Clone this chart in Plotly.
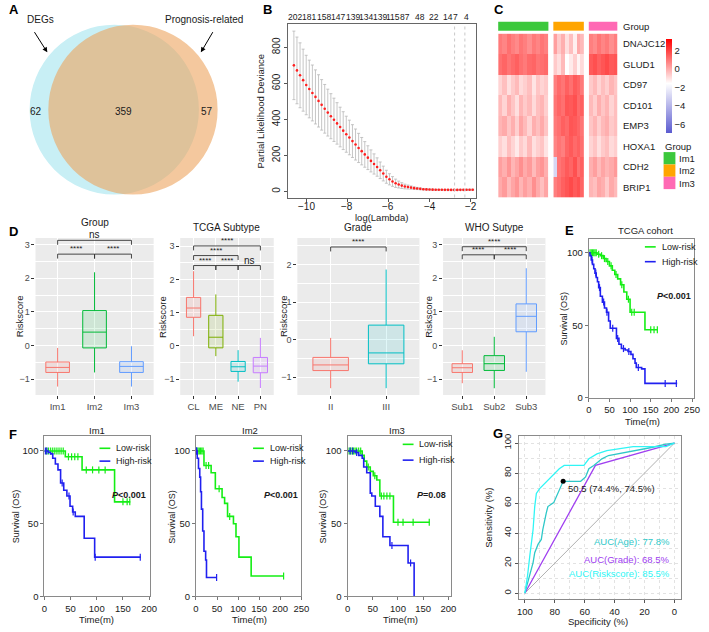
import plotly.graph_objects as go

W, H = 709, 632
FONT = "Liberation Sans, Arial, Helvetica, sans-serif"
TXT = "#1a1a1a"


def px(x):
    return x / W


def py(y):
    return 1 - y / H


# ---------------- A: Venn ----------------
venn_names = ["DEGs", "Prognosis-related"]
venn_counts = [62, 359, 57]  # DEGs only, both, prognosis-related only

# ---------------- B: LASSO cross-validation ----------------
log_lambda = [-10.60, -10.45, -10.30, -10.15, -10.00, -9.85, -9.70, -9.55, -9.40, -9.25,
              -9.10, -8.95, -8.80, -8.65, -8.50, -8.35, -8.20, -8.05, -7.90, -7.75,
              -7.60, -7.45, -7.30, -7.15, -7.00, -6.85, -6.70, -6.55, -6.40, -6.25,
              -6.10, -5.95, -5.80, -5.65, -5.50, -5.35, -5.20, -5.05, -4.90, -4.75,
              -4.60, -4.45, -4.30, -4.15, -4.00, -3.85, -3.70, -3.55, -3.40, -3.25,
              -3.10, -2.95, -2.80, -2.65, -2.50, -2.35, -2.20, -2.05, -1.90]
deviance_mean = [700, 672, 645, 618, 591, 569, 547, 525, 503, 481,
                 459, 438, 418, 398, 378, 358, 338, 318, 300, 280,
                 261, 242, 224, 206, 188, 170, 153, 136, 118, 100,
                 82, 68, 56, 46, 39, 33, 28, 25, 22, 19,
                 17, 15, 13, 12, 11, 10.5, 10, 9.8, 9.6, 9.5,
                 9.4, 9.3, 9.3, 9.3, 9.4, 9.5, 9.6, 9.8, 10]
deviance_sd = [190, 185, 180, 172, 165, 160, 155, 150, 145, 140,
               135, 130, 125, 120, 115, 110, 105, 100, 96, 91,
               86, 81, 76, 71, 66, 61, 56, 51, 46, 41,
               36, 31, 27, 23, 19, 16, 13, 11, 9, 7,
               6, 5, 4, 3.5, 3, 2.8, 2.6, 2.5, 2.4, 2.3,
               2.3, 2.3, 2.3, 2.3, 2.4, 2.5, 2.6, 2.8, 3]
lambda_ticks = [-10, -8, -6, -4, -2]
nz_pos = [-10.57, -9.86, -9.14, -8.44, -7.74, -7.07, -6.41, -5.80, -5.20, -4.48, -3.77, -3.12, -2.73, -2.20]
nz_labels = ["202", "181", "158", "147", "139", "134", "139", "115", "87", "48", "22", "14", "7", "4"]
lambda_sel = [-2.78, -2.28]

# ---------------- C: heatmap ----------------
genes = ["DNAJC12", "GLUD1", "CD97", "CD101", "EMP3", "HOXA1", "CDH2", "BRIP1"]
heat_groups = ["Im1", "Im2", "Im3"]
group_colors = ["#3cc83c", "#ffa500", "#ff69b4"]
heat_im1 = [
    [1.0, 0.8, 1.2, 0.9, 0.7, 1.1, 0.9, 0.6, 1.0, 0.8, 1.1, 0.9],
    [1.2, 1.4, 1.1, 1.3, 1.5, 1.2, 1.0, 1.3, 1.4, 1.1, 1.2, 1.3],
    [-0.7, -0.3, -0.9, -0.5, -0.2, -0.8, -0.6, -0.3, -1.0, -0.4, -0.7, -0.5],
    [-0.2, -0.7, 0.0, -0.4, -0.9, -0.1, -0.5, -0.2, -0.8, -0.3, -0.1, -0.6],
    [-0.1, 0.1, -0.4, 0.0, -0.6, 0.2, -0.2, -0.7, 0.0, -0.3, 0.1, -0.4],
    [-0.6, -0.9, -0.3, -0.7, -1.1, -0.5, -0.8, -0.2, -0.9, -0.6, -0.4, -1.0],
    [0.3, 0.0, 0.5, -0.1, 0.2, 0.6, 0.1, 0.4, -0.2, 0.3, 0.5, 0.0],
    [0.1, 0.4, -0.2, 0.2, 0.5, -0.1, 0.3, 0.0, 0.6, 0.1, -0.3, 0.2],
]
heat_im2 = [
    [0.3, -0.5, 0.0, -0.9, -0.3, -1.2, 0.1, -0.2],
    [-0.5, -0.9, -0.2, -1.5, -1.1, -0.6, -1.3, -0.8],
    [0.9, 1.3, 1.1, 1.5, 1.2, 1.6, 1.4, 1.0],
    [1.1, 1.4, 1.2, 1.7, 1.6, 1.8, 1.3, 1.5],
    [1.0, 1.2, 1.5, 1.3, 1.7, 1.6, 1.4, 1.1],
    [0.8, 1.1, 0.9, 1.4, 1.6, 1.3, 1.5, 1.2],
    [-2.8, 1.1, 1.3, 1.6, 1.4, 1.8, 1.2, 1.5],
    [0.9, 1.2, 1.5, 1.7, 1.9, 1.6, 1.8, 1.4],
]
heat_im3 = [
    [0.9, 0.7, 1.1, 0.8, 1.0, 0.6, 0.9],
    [1.6, 1.8, 1.5, 1.7, 1.9, 1.6, 1.7],
    [-0.5, -0.2, -0.7, -0.3, -0.6, -0.1, -0.4],
    [-0.2, -0.6, 0.0, -0.4, -0.1, -0.7, -0.3],
    [-0.4, -0.1, -0.6, -0.2, 0.0, -0.5, -0.3],
    [-0.7, -0.4, -0.9, -0.5, -0.3, -0.8, -0.6],
    [0.0, 0.3, -0.2, 0.2, -0.1, 0.1, 0.4],
    [-0.1, -0.3, 0.2, 0.0, -0.5, 0.1, -0.2],
]
heat_ticks = [2, 0, -2, -4, -6]

# ---------------- D: boxplots ----------------
gg_red, gg_green, gg_blue = "#F8766D", "#00BA38", "#619CFF"
group_cats = ["Im1", "Im2", "Im3"]
group_q1 = [-0.80, -0.07, -0.80]
group_med = [-0.65, 0.40, -0.62]
group_q3 = [-0.49, 1.04, -0.48]
group_lo = [-1.22, -0.80, -1.22]
group_hi = [-0.07, 2.18, -0.02]
group_brackets = [(1, 3, 3.13, "ns"), (1, 2, 2.72, "****"), (2, 3, 2.72, "****")]

tcga_cats = ["CL", "ME", "NE", "PN"]
tcga_q1 = [0.86, -0.06, -0.77, -0.81]
tcga_med = [1.14, 0.26, -0.63, -0.61]
tcga_q3 = [1.46, 0.92, -0.47, -0.35]
tcga_lo = [0.29, -0.31, -1.08, -1.27]
tcga_hi = [2.25, 1.55, -0.13, 0.24]
tcga_brackets = [(1, 4, 3.01, "****"), (1, 3, 2.72, "****"), (1, 2, 2.42, "****"),
                 (2, 3, 2.42, "****"), (3, 4, 2.42, "ns")]

grade_cats = ["II", "III"]
grade_q1 = [-0.82, -0.64]
grade_med = [-0.67, -0.35]
grade_q3 = [-0.47, 0.39]
grade_lo = [-1.29, -1.29]
grade_hi = [0.05, 1.87]
grade_brackets = [(1, 2, 2.47, "****")]

who_cats = ["Sub1", "Sub2", "Sub3"]
who_q1 = [-0.80, -0.74, 0.41]
who_med = [-0.66, -0.54, 0.87]
who_q3 = [-0.54, -0.30, 1.24]
who_lo = [-1.12, -1.27, -0.78]
who_hi = [-0.14, 0.26, 2.30]
who_brackets = [(1, 3, 2.94, "****"), (1, 2, 2.70, "****"), (2, 3, 2.70, "****")]

# ---------------- E/F: Kaplan-Meier ----------------
tcga_low_t = [0, 20, 28, 35, 42, 50, 57, 63, 70, 77, 85, 92, 100, 136, 167]
tcga_low_s = [100, 99, 98, 96, 94, 91, 88, 85, 82, 78, 73, 68, 59, 47, 47]
tcga_low_cens = [3, 6, 9, 12, 15, 18, 24, 31, 38, 46, 54, 66, 80, 96, 104, 110, 150, 158, 166]
tcga_high_t = [0, 3, 6, 9, 12, 15, 18, 21, 24, 28, 33, 38, 43, 48, 52, 62, 67, 73, 79, 88, 95, 102,
               107, 112, 115, 128, 136, 214]
tcga_high_s = [100, 98, 95, 92, 89, 86, 83, 80, 76, 70, 66, 62, 59, 53, 48, 48, 41, 37, 34, 33, 32, 30,
               27, 24, 21, 20, 10, 10]
tcga_high_cens = [8, 17, 26, 36, 44, 58, 70, 84, 97, 120, 185, 212]

im1_low_t = [0, 40, 72, 134, 164]
im1_low_s = [100, 96, 87, 65, 65]
im1_low_cens = [4, 8, 12, 16, 20, 24, 28, 32, 36, 46, 52, 58, 64, 80, 92, 104, 116, 150, 158, 163]
im1_high_t = [0, 8, 12, 16, 21, 26, 31, 37, 43, 49, 54, 59, 76, 96, 184]
im1_high_s = [100, 99, 98, 95, 91, 87, 78, 73, 69, 62, 58, 55, 40, 27, 27]
im1_high_cens = [2, 5, 34, 47, 55, 97, 183]

im2_low_t = [0, 19, 36, 46, 62, 68, 75, 89, 95, 102, 131, 209]
im2_low_s = [100, 90, 85, 74, 68, 64, 55, 50, 41, 27, 14, 14]
im2_low_cens = [2, 5, 8, 11, 14, 17, 24, 30, 55, 80, 208]
im2_high_t = [0, 3, 6, 9, 11, 13, 16, 19, 23, 25, 50]
im2_high_s = [100, 95, 88, 82, 72, 60, 45, 31, 25, 13, 13]
im2_high_cens = [1, 2, 49]

im3_low_t = [0, 29, 33, 38, 45, 51, 58, 64, 91, 163]
im3_low_s = [100, 97, 93, 89, 86, 83, 80, 69, 51, 51]
im3_low_cens = [3, 6, 9, 12, 15, 18, 22, 26, 41, 54, 67, 72, 78, 84, 100, 110, 130, 162]
im3_high_t = [0, 15, 22, 29, 32, 38, 45, 48, 55, 64, 70, 84, 120, 132]
im3_high_s = [100, 99, 97, 95, 89, 85, 71, 69, 62, 55, 41, 35, 23, 0]
im3_high_cens = [5, 10, 18, 88, 125]

# ---------------- G: ROC ----------------
roc_age_spec = [100, 98.9, 96.7, 94.5, 93.4, 91.2, 89.0, 88.0, 85.7, 84.6, 80.7, 78.0, 75.9, 74.4,
                62.7, 59.4, 57.2, 53.9, 48.5, 44.1, 14.5, 5.7, 0]
roc_age_sens = [0, 4, 11.6, 20.4, 27, 32.5, 35.8, 42.4, 53.3, 57.7, 60.3, 66.4, 72, 74.5,
                74.5, 77.4, 82.9, 85.1, 89.5, 91.7, 97.2, 99.3, 100]
roc_risk_spec = [100, 98.2, 96.7, 94.5, 93.4, 92.3, 90.1, 86.8, 83.6, 80.3, 77.0, 73.7, 60.5, 57.2,
                 51.8, 45.2, 27.6, 5.7, 0]
roc_risk_sens = [0, 11.6, 24.8, 42.4, 57.7, 66.4, 69.7, 73, 76.3, 79.6, 82.9, 85.1, 85.1, 89.5,
                 92.8, 95, 97.6, 97.6, 100]
roc_grade_spec = [100, 52.8, 0]
roc_grade_sens = [0, 85.1, 100]
roc_ref = [100, 0]
best_spec, best_sens, best_thr = 74.4, 74.5, 50.5
auc_labels = ["AUC(Age): 77.8%", "AUC(Grade): 68.5%", "AUC(Riskscore): 85.5%"]
auc_y = [34.3, 22.2, 13.0]
roc_colors = ["#2ec8c8", "#a040f0", "#30f5f5"]

# =====================================================================
fig = go.Figure()
layout = dict(width=W, height=H, margin=dict(l=0, r=0, t=0, b=0),
              paper_bgcolor="white", plot_bgcolor="rgba(0,0,0,0)",
              font=dict(family=FONT, size=9, color=TXT), showlegend=False)
annotations = []
shapes = []


def axkey(n, c):
    return f"{c}axis" if n == 1 else f"{c}axis{n}"


def ref(n, c):
    return c if n == 1 else f"{c}{n}"


def ann(text, x, y, size=9, color=TXT, xanchor="center", yanchor="middle", angle=0,
        xref="paper", yref="paper", **kw):
    if xref == "paper":
        x = px(x)
    if yref == "paper":
        y = py(y)
    d = dict(text=text, x=x, y=y, xref=xref, yref=yref, showarrow=False,
             font=dict(size=size, color=color, family=FONT),
             xanchor=xanchor, yanchor=yanchor, textangle=angle)
    d.update(kw)
    annotations.append(d)


# panel letters
for letter, lx, ly in [("A", 4, 7), ("B", 262, 7), ("C", 497, 7), ("D", 4, 231),
                       ("E", 569, 230), ("F", 4, 437), ("G", 496, 436)]:
    ann(f"<b>{letter}</b>", lx, ly, size=13, color="black", xanchor="left")

# ---------------- A ----------------
layout["xaxis"] = dict(domain=[0, px(230)], range=[0, 230], visible=False, anchor="y")
layout["yaxis"] = dict(domain=[py(220), 1], range=[220, 0], visible=False, anchor="x")
shapes.append(dict(type="circle", xref="x", yref="y", x0=27, y0=22, x1=199, y1=194,
                   fillcolor="#c8eff5", line_width=0, layer="below"))
shapes.append(dict(type="circle", xref="x", yref="y", x0=46, y0=22, x1=218, y1=194,
                   fillcolor="rgba(237,163,93,0.6)", line_width=0, layer="below"))
for txt, vx in zip(venn_counts, [34, 122, 207]):
    ann(str(txt), vx, 110, size=10, xref="x", yref="y")
ann(venn_names[0], 38, 17, size=10)
ann(venn_names[1], 204, 17, size=10)
for hx, hy, tx, ty in [(45, 50, 31, 28), (201, 50, 214, 28)]:
    annotations.append(dict(x=hx, y=hy, xref="x", yref="y", ax=tx, ay=ty, axref="x", ayref="y",
                            showarrow=True, arrowhead=2, arrowsize=1, arrowwidth=1,
                            arrowcolor="black", text=""))

# ---------------- B ----------------
fig.add_trace(go.Scatter(x=log_lambda, y=deviance_mean, mode="markers",
                         marker=dict(color="#ff2020", size=2.6),
                         error_y=dict(type="data", array=deviance_sd, color="#b8b8b8",
                                      thickness=0.8, width=1.5),
                         xaxis="x2", yaxis="y2", hoverinfo="skip"))
layout["xaxis2"] = dict(domain=[px(289), px(480)], range=[-10.91, -1.76], anchor="y2",
                        tickvals=lambda_ticks, ticks="outside", ticklen=3, tickcolor="#555",
                        showticklabels=False,
                        showline=True, linecolor="#666", mirror=True, showgrid=False, zeroline=False)
layout["yaxis2"] = dict(domain=[py(197), py(21)], range=[-33, 931], anchor="x2",
                        tickvals=[0, 200, 400, 600, 800], tickangle=-90, ticks="outside", ticklen=3,
                        tickcolor="#555", showline=True, linecolor="#666", mirror=True,
                        showgrid=False, zeroline=False, tickfont=dict(size=10))
for tv in lambda_ticks:
    ann(f"\u2212{abs(tv)}", tv, 206, size=10, xref="x2")
for xv in lambda_sel:
    shapes.append(dict(type="line", xref="x2", yref="y2 domain", x0=xv, x1=xv, y0=0, y1=1,
                       line=dict(color="#c8c8c8", width=1, dash="dot")))
for pos, lab in zip(nz_pos, nz_labels):
    ann(lab, pos, 14, size=8.5, xref="x2")
ann("log(Lambda)", 384, 217, size=9.5)
ann("Partial Likelihood Deviance", 262, 109, size=9.5, angle=-90)

# ---------------- C ----------------
heat_blocks = [heat_im1, heat_im2, heat_im3]
heat_dom = [(503, 554), (559, 590), (595, 624)]
for k, (blk, (a, b)) in enumerate(zip(heat_blocks, heat_dom)):
    n = 4 + k
    fig.add_trace(go.Heatmap(z=blk, x=list(range(len(blk[0]))), y=genes, coloraxis="coloraxis",
                             xaxis=ref(n, "x"), yaxis="y4", hoverinfo="skip"))
    layout[axkey(n, "x")] = dict(domain=[px(a), px(b)], range=[-0.5, len(blk[0]) - 0.5], anchor="y4",
                                 visible=False, showgrid=False, zeroline=False)
    shapes.append(dict(type="rect", xref=f"{ref(n, 'x')} domain", yref="paper", x0=0, x1=1,
                       y0=py(28), y1=py(19), fillcolor=group_colors[k], line_width=0))
layout["yaxis4"] = dict(domain=[py(197), py(31)], anchor="x4", autorange="reversed", visible=False,
                        showgrid=False, zeroline=False, type="category")
layout["coloraxis"] = dict(cmin=-6.85, cmax=3.3,
                           colorscale=[[0, "#5b5bd0"], [0.527, "#ffffff"], [1, "#ff0000"]],
                           colorbar=dict(x=px(673), xanchor="left", y=py(36), yanchor="top",
                                         len=95 / H, lenmode="fraction", thickness=6,
                                         thicknessmode="pixels", outlinewidth=0,
                                         tickvals=heat_ticks, ticks="", tickfont=dict(size=9.5),
                                         xpad=0, ypad=0))
for g in genes:
    ann(g, 628, g, size=9.5, xanchor="left", xref="paper", yref="y4")
ann("Group", 628, 24, size=9.5, xanchor="left")
ann("Group", 670, 145, size=9.5, xanchor="left")
for k, (gname, col) in enumerate(zip(heat_groups, group_colors)):
    y0 = 151 + k * 12.5
    shapes.append(dict(type="rect", xref="paper", yref="paper", x0=px(671), x1=px(683),
                       y0=py(y0 + 12.5), y1=py(y0), fillcolor=col, line_width=0))
    ann(gname, 685, y0 + 6.5, size=9.5, xanchor="left")


# ---------------- D ----------------
def hex_rgba(h, a):
    h = h.lstrip("#")
    return f"rgba({int(h[0:2], 16)},{int(h[2:4], 16)},{int(h[4:6], 16)},{a})"


def box_panel(n, xpx, ypx, yrange, yticks, cats, q1, med, q3, lo, hi, colors, brackets,
              title, ylab_x, title_y=227):
    xr, yr = ref(n, "x"), ref(n, "y")
    ppu = (ypx[1] - ypx[0]) / (yrange[1] - yrange[0])
    for i, c in enumerate(cats):
        fig.add_trace(go.Box(x=[i + 1], q1=[q1[i]], median=[med[i]], q3=[q3[i]],
                             lowerfence=[lo[i]], upperfence=[hi[i]], boxpoints=False,
                             line=dict(color=colors[i], width=1), fillcolor=hex_rgba(colors[i], 0.12),
                             width=0.64, whiskerwidth=0, xaxis=xr, yaxis=yr, hoverinfo="skip"))
    tip = 4.5 / ppu
    for (i, j, yv, lab) in brackets:
        fig.add_trace(go.Scatter(x=[i, i, j, j], y=[yv - tip, yv, yv, yv - tip], mode="lines",
                                 line=dict(color="#333333", width=0.9), xaxis=xr, yaxis=yr,
                                 hoverinfo="skip", cliponaxis=False))
        if lab == "ns":
            ann(lab, (i + j) / 2, yv, size=10, xref=xr, yref=yr, yanchor="bottom", yshift=-2)
        else:
            ann(lab, (i + j) / 2, yv, size=8, xref=xr, yref=yr, yanchor="bottom", yshift=-1)
    layout[axkey(n, "x")] = dict(domain=[px(xpx[0]), px(xpx[1])], range=[0.4, len(cats) + 0.6],
                                 anchor=yr, tickvals=list(range(1, len(cats) + 1)), ticktext=cats,
                                 ticks="outside", ticklen=3, tickcolor="#333", showgrid=True,
                                 gridcolor="white", gridwidth=1, zeroline=False, showline=False,
                                 tickfont=dict(size=9.5, color="#4d4d4d"))
    layout[axkey(n, "y")] = dict(domain=[py(ypx[1]), py(ypx[0])], range=yrange, anchor=xr,
                                 tickvals=yticks, ticks="outside", ticklen=3, tickcolor="#333",
                                 showgrid=True, gridcolor="white", gridwidth=1, zeroline=False,
                                 showline=False, tickfont=dict(size=9, color="#4d4d4d"),
                                 minor=dict(dtick=0.5, tick0=0, showgrid=True, gridcolor="white",
                                            gridwidth=0.5, ticks=""))
    shapes.append(dict(type="rect", xref=f"{xr} domain", yref=f"{yr} domain", x0=0, x1=1, y0=0, y1=1,
                       fillcolor="#ebebeb", line_width=0, layer="below"))
    ann(title, (xpx[0] + xpx[1]) / 2, title_y, size=10)
    ann("Riskscore", ylab_x, (ypx[0] + ypx[1]) / 2, size=9.5, angle=-90)


box_panel(7, (33, 153), (238, 397), [-1.47, 3.2], [-1, 0, 1, 2, 3], group_cats, group_q1, group_med,
          group_q3, group_lo, group_hi, [gg_red, gg_green, gg_blue], group_brackets, "Group", 17,
          title_y=222)
box_panel(8, (180, 275), (238, 397), [-1.48, 3.25], [-1, 0, 1, 2, 3], tcga_cats, tcga_q1, tcga_med,
          tcga_q3, tcga_lo, tcga_hi, [gg_red, "#7CAE00", "#00BFC4", "#C77CFF"], tcga_brackets,
          "TCGA Subtype", 162)
box_panel(9, (299, 423), (238, 397), [-1.47, 2.71], [-1, 0, 1, 2], grade_cats, grade_q1, grade_med,
          grade_q3, grade_lo, grade_hi, [gg_red, "#00BFC4"], grade_brackets, "Grade", 285)
box_panel(10, (447, 551), (238, 397), [-1.47, 3.2], [-1, 0, 1, 2, 3], who_cats, who_q1, who_med,
          who_q3, who_lo, who_hi, [gg_red, gg_green, gg_blue], who_brackets, "WHO Sutype", 432)

# ---------------- E / F ----------------
KM_GREEN, KM_BLUE = "#14ee14", "#2020f0"


def step_at(ts, ss, c):
    v = ss[0]
    for t, s in zip(ts, ss):
        if t <= c:
            v = s
    return v


def km_panel(n, xpx, ypx, xr_max, yr_max, xticks, low, high, title, tpos, ptxt, ppos, lpos, ylab_x,
             time_pos):
    xr, yr = ref(n, "x"), ref(n, "y")
    for (t, s, cens, col) in [(low[0], low[1], low[2], KM_GREEN), (high[0], high[1], high[2], KM_BLUE)]:
        fig.add_trace(go.Scatter(x=t, y=s, mode="lines", line=dict(color=col, width=1.6, shape="hv"),
                                 xaxis=xr, yaxis=yr, hoverinfo="skip"))
        fig.add_trace(go.Scatter(x=cens, y=[step_at(t, s, c) for c in cens], mode="markers",
                                 marker=dict(symbol="line-ns-open", size=5, color=col,
                                             line=dict(width=1.2, color=col)),
                                 xaxis=xr, yaxis=yr, hoverinfo="skip", cliponaxis=False))
    layout[axkey(n, "x")] = dict(domain=[px(xpx[0]), px(xpx[1])], range=[0, xr_max], anchor=yr,
                                 tickvals=xticks, ticks="outside", ticklen=3, tickcolor="#777",
                                 showline=True, linecolor="#8a8a8a", mirror=True, showgrid=False,
                                 zeroline=False, tickfont=dict(size=9.5))
    layout[axkey(n, "y")] = dict(domain=[py(ypx[1]), py(ypx[0])], range=[0, yr_max], anchor=xr,
                                 tickvals=[0, 50, 100], ticks="outside", ticklen=3, tickcolor="#777",
                                 showline=True, linecolor="#8a8a8a", mirror=True, showgrid=False,
                                 zeroline=False, tickfont=dict(size=9.5))
    ann(title, tpos[0], tpos[1], size=9.5)
    ann(f"<b><i>P</i>{ptxt}</b>", ppos[0], ppos[1], size=9)
    lx, ly1, ly2 = lpos
    for yy, lab, col in [(ly1, "Low-risk", KM_GREEN), (ly2, "High-risk", KM_BLUE)]:
        shapes.append(dict(type="line", xref="paper", yref="paper", x0=px(lx), x1=px(lx + 11),
                           y0=py(yy), y1=py(yy), line=dict(color=col, width=1.6)))
        ann(lab, lx + 15, yy, size=9, xanchor="left")
    ann("Survival (OS)", ylab_x, (ypx[0] + ypx[1]) / 2, size=9, angle=-90)
    ann("Time(m)", time_pos[0], time_pos[1], size=9.5)


km_panel(11, (595, 702), (239, 400), 255, 109.5, [0, 50, 100, 150, 200, 250],
         (tcga_low_t, tcga_low_s, tcga_low_cens), (tcga_high_t, tcga_high_s, tcga_high_cens),
         "TCGA cohort", (653, 230), "&lt;0.001", (682, 297), (652, 247, 262), 570, (650, 424))
km_panel(12, (42, 149), (439, 601), 201, 110, [0, 50, 100, 150, 200],
         (im1_low_t, im1_low_s, im1_low_cens), (im1_high_t, im1_high_s, im1_high_cens),
         "Im1", (95, 433), "&lt;0.001", (128, 498), (98, 451, 464), 14, (95, 624))
km_panel(13, (196, 303), (439, 601), 250, 110, [0, 50, 100, 150, 200, 250],
         (im2_low_t, im2_low_s, im2_low_cens), (im2_high_t, im2_high_s, im2_high_cens),
         "Im2", (251, 433), "&lt;0.001", (282, 498), (254, 451, 464), 172, (250, 624))
km_panel(14, (350, 455), (439, 601), 205, 110, [0, 50, 100, 150, 200],
         (im3_low_t, im3_low_s, im3_low_cens), (im3_high_t, im3_high_s, im3_high_cens),
         "Im3", (400, 433), "=0.08", (435, 498), (406, 447, 463), 325, (404, 624))

# ---------------- G ----------------
fig.add_trace(go.Scatter(x=roc_ref, y=roc_ref[::-1], mode="lines", line=dict(color="#b0b0b0", width=1),
                         xaxis="x15", yaxis="y15", hoverinfo="skip"))
for sx, sy, col in [(roc_grade_spec, roc_grade_sens, roc_colors[1]),
                    (roc_age_spec, roc_age_sens, roc_colors[0]),
                    (roc_risk_spec, roc_risk_sens, roc_colors[2])]:
    fig.add_trace(go.Scatter(x=sx, y=sy, mode="lines", line=dict(color=col, width=1.3),
                             xaxis="x15", yaxis="y15", hoverinfo="skip"))
fig.add_trace(go.Scatter(x=[best_spec], y=[best_sens], mode="markers", marker=dict(color="black", size=5),
                         xaxis="x15", yaxis="y15", hoverinfo="skip"))
ann(f"{best_thr} ({best_spec}%, {best_sens}%)", best_spec, best_sens, size=9.5, color="#222",
    xanchor="left", xref="x15", yref="y15", xshift=3, yshift=-7)
for lab, yv, col in zip(auc_labels, auc_y, roc_colors):
    ann(lab, 1.3, yv, size=9.5, color=col, xanchor="right", xref="x15", yref="y15")
layout["xaxis15"] = dict(domain=[px(524), px(689)], range=[104, -4.6], anchor="y15",
                         tickvals=[100, 80, 60, 40, 20, 0], ticks="outside", ticklen=3, tickcolor="#555",
                         showline=True, linecolor="#8a8a8a", mirror=True, showgrid=True,
                         gridcolor="#e2e2e2", griddash="dot", gridwidth=1, zeroline=False,
                         tickfont=dict(size=9.5),
                         minor=dict(dtick=10, showgrid=True, gridcolor="#e2e2e2", griddash="dot"))
layout["yaxis15"] = dict(domain=[py(604), py(439)], range=[-4.1, 104.4], anchor="x15",
                         tickvals=[0, 20, 40, 60, 80, 100], tickangle=-90, ticks="outside", ticklen=3,
                         tickcolor="#555", showline=True, linecolor="#8a8a8a", mirror=True,
                         showgrid=True, gridcolor="#e2e2e2", griddash="dot", zeroline=False,
                         tickfont=dict(size=9.5),
                         minor=dict(dtick=10, showgrid=True, gridcolor="#e2e2e2", griddash="dot"))
ann("Specificity (%)", 604, 626, size=9.5)
ann("Sensitivity (%)", 493, 521, size=9.5, angle=-90)

layout["annotations"] = annotations
layout["shapes"] = shapes
fig.update_layout(**layout)
fig.write_html("out.html", config={"displayModeBar": False},
               post_script="document.body.style.margin='0px';")
